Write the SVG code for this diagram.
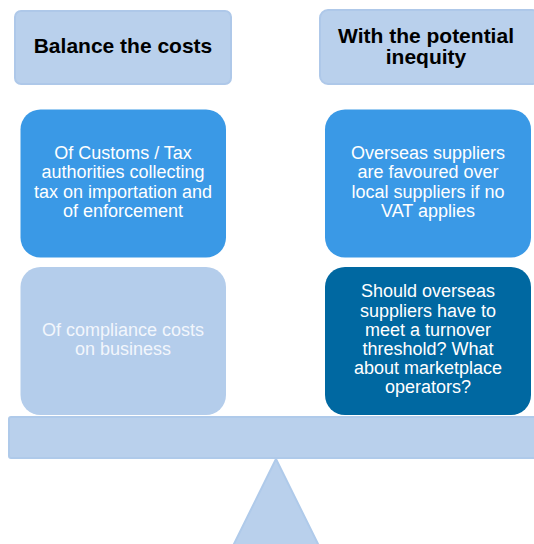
<svg xmlns="http://www.w3.org/2000/svg" width="534" height="544" viewBox="0 0 534 544">
  <style>
    .hdr { fill: #b9d0ec; stroke: #aec8e9; stroke-width: 2; }
    .mid { fill: #3a99e6; }
    .light { fill: #b4cdeb; }
    .dark { fill: #0068a1; }
    .scale { fill: #b9d0ec; stroke: #afcaea; stroke-width: 2; }
    .t-hdr { font-family: "Liberation Sans", Arial, sans-serif; font-size: 21px; font-weight: bold; fill: #000; text-anchor: middle; }
    .t-body { font-family: "Liberation Sans", Arial, sans-serif; font-size: 18px; fill: #ffffff; text-anchor: middle; }
    .t-soft { fill: #f2f6fc; }
  </style>
  <rect width="534" height="544" fill="#ffffff"/>

  <!-- balance beam and fulcrum -->
  <g id="fulcrum">
    <polygon class="scale" points="276,459 230,552 322,552"/>
  </g>
  <g id="beam">
    <rect class="scale" x="9" y="417" width="535" height="41" rx="2"/>
  </g>

  <g id="header-left">
    <rect class="hdr" x="15" y="11" width="216" height="73" rx="6"/>
    <text class="t-hdr" x="123" y="53">Balance the costs</text>
  </g>

  <g id="header-right">
    <rect class="hdr" x="320" y="10" width="220" height="74" rx="8" stroke="none"/>
    <text class="t-hdr" x="426" y="42.5">With the potential</text>
    <text class="t-hdr" x="426" y="64">inequity</text>
  </g>

  <g id="customs-cost">
    <rect class="mid" x="20.5" y="109.5" width="205.5" height="148" rx="20"/>
    <text class="t-body" x="123" y="159">Of Customs / Tax</text>
    <text class="t-body" x="123" y="178.3">authorities collecting</text>
    <text class="t-body" x="123" y="197.6">tax on importation and</text>
    <text class="t-body" x="123" y="216.9">of enforcement</text>
  </g>

  <g id="compliance-cost">
    <rect class="light" x="20.5" y="267" width="205.5" height="148" rx="20"/>
    <text class="t-body t-soft" x="123" y="336">Of compliance costs</text>
    <text class="t-body t-soft" x="123" y="354.5">on business</text>
  </g>

  <g id="overseas-favoured">
    <rect class="mid" x="325" y="109.5" width="206" height="148" rx="20"/>
    <text class="t-body" x="428" y="159">Overseas suppliers</text>
    <text class="t-body" x="428" y="178.3">are favoured over</text>
    <text class="t-body" x="428" y="197.6">local suppliers if no</text>
    <text class="t-body" x="428" y="216.9">VAT applies</text>
  </g>

  <g id="turnover-threshold">
    <rect class="dark" x="325" y="267" width="206" height="148" rx="20"/>
    <text class="t-body" x="428" y="297.3">Should overseas</text>
    <text class="t-body" x="428" y="316.5">suppliers have to</text>
    <text class="t-body" x="428" y="335.7">meet a turnover</text>
    <text class="t-body" x="428" y="354.9">threshold? What</text>
    <text class="t-body" x="428" y="374.1">about marketplace</text>
    <text class="t-body" x="428" y="393.3">operators?</text>
  </g>
</svg>
